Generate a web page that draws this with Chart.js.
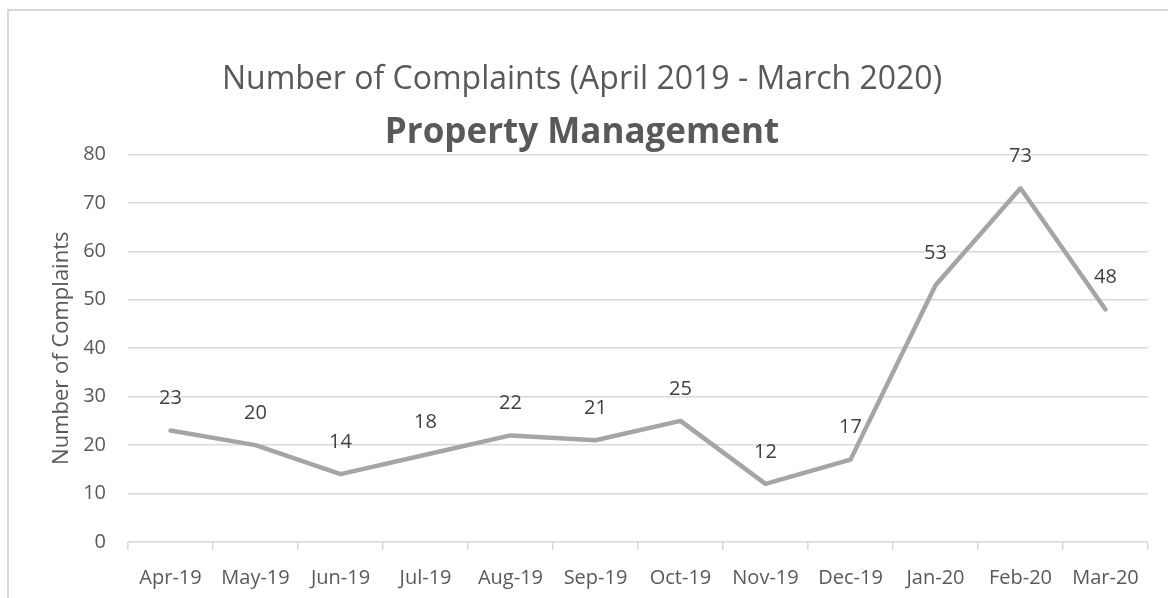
<!DOCTYPE html>
<html>
<head>
<meta charset="utf-8">
<script src="https://cdn.jsdelivr.net/npm/chart.js@4/dist/chart.umd.min.js"></script>
<style>
  html, body { margin: 0; padding: 0; background: #fff; overflow: hidden; }
  #wrap { position: relative; width: 1168px; height: 598px; }
  #frame { position: absolute; left: 7px; top: 9px; width: 1400px; height: 800px; border: 2px solid #d9d9d9; box-sizing: border-box; }
  canvas { position: absolute; left: 0; top: 0; }
</style>
</head>
<body>
<div id="wrap">
  <div id="frame"></div>
  <canvas id="c" width="1168" height="598"></canvas>
</div>
<script>
const categories = ['Apr-19','May-19','Jun-19','Jul-19','Aug-19','Sep-19','Oct-19','Nov-19','Dec-19','Jan-20','Feb-20','Mar-20'];
const complaints = [23, 20, 14, 18, 22, 21, 25, 12, 17, 53, 73, 48];
const yTicks = [0, 10, 20, 30, 40, 50, 60, 70, 80];
const titleText = 'Number of Complaints (April 2019 - March 2020)';
const subtitleText = 'Property Management';
const yAxisTitle = 'Number of Complaints';

const FONT = '"Open Sans", "Noto Sans", sans-serif';

const dataLabels = {
  id: 'dataLabels',
  afterDatasetsDraw(chart) {
    const ctx = chart.ctx;
    const meta = chart.getDatasetMeta(0);
    ctx.save();
    ctx.font = '20px ' + FONT;
    ctx.fillStyle = '#404040';
    ctx.textAlign = 'center';
    ctx.textBaseline = 'middle';
    meta.data.forEach((el, i) => {
      ctx.fillText(String(complaints[i]), el.x, el.y - 32);
    });
    ctx.restore();
  }
};

new Chart(document.getElementById('c'), {
  type: 'line',
  data: {
    labels: categories,
    datasets: [{
      data: complaints,
      borderColor: '#a5a5a5',
      borderWidth: 4.5,
      borderCapStyle: 'round',
      borderJoinStyle: 'round',
      pointRadius: 0,
      pointHoverRadius: 0,
      tension: 0,
      fill: false
    }]
  },
  options: {
    responsive: false,
    animation: false,
    events: [],
    layout: { padding: { left: 16, right: 20, top: 0, bottom: 0 } },
    plugins: {
      legend: { display: false },
      tooltip: { enabled: false },
      title: {
        display: true,
        text: titleText,
        color: '#595959',
        font: { family: FONT, size: 32, weight: 'normal' },
        padding: { top: 61, bottom: 13 }
      },
      subtitle: {
        display: true,
        text: subtitleText,
        color: '#595959',
        font: { family: FONT, size: 35, weight: 'bold' },
        padding: { top: 0, bottom: 0 }
      }
    },
    scales: {
      x: {
        type: 'category',
        offset: true,
        border: { display: false },
        grid: {
          display: true,
          offset: true,
          drawOnChartArea: false,
          drawTicks: true,
          tickLength: 8,
          color: '#d9d9d9',
          lineWidth: 1.5
        },
        ticks: {
          color: '#595959',
          font: { family: FONT, size: 20 },
          padding: 16,
          maxRotation: 0,
          autoSkip: false
        },
        afterFit(scale) { scale.height = 56; }
      },
      y: {
        min: 0,
        max: 80,
        border: { display: false },
        afterBuildTicks(scale) { scale.ticks = yTicks.map(v => ({ value: v })); },
        grid: {
          color: '#d9d9d9',
          lineWidth: 1.5,
          drawTicks: false
        },
        ticks: {
          color: '#595959',
          font: { family: FONT, size: 20 },
          padding: 22
        },
        title: {
          display: true,
          text: yAxisTitle,
          color: '#595959',
          font: { family: FONT, size: 22 },
          padding: { top: 33, bottom: 0 }
        },
        afterFit(scale) { scale.width = 112; }
      }
    }
  },
  plugins: [dataLabels]
});
</script>
</body>
</html>
